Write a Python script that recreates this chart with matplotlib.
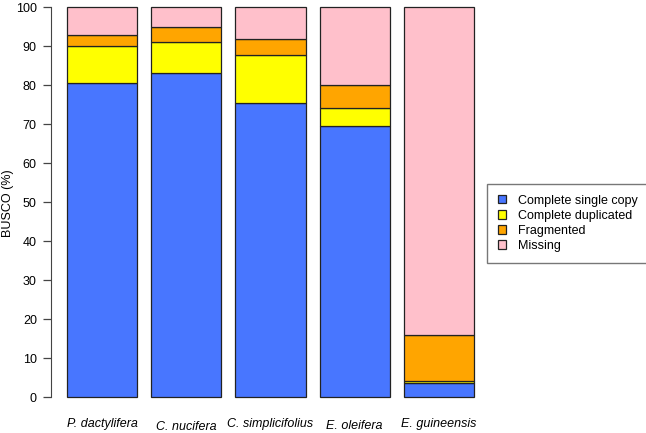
import matplotlib
matplotlib.use("Agg")
import matplotlib.pyplot as plt
import matplotlib.transforms as mtransforms
from matplotlib.patches import Patch
import numpy as np

plt.rcParams['font.family'] = ['Liberation Sans', 'DejaVu Sans']

# data (percent of BUSCOs)
species = ['P. dactylifera', 'C. nucifera', 'C. simplicifolius', 'E. oleifera', 'E. guineensis']
single = [80.7, 83.2, 75.6, 69.7, 3.8]
duplicated = [9.3, 7.8, 12.3, 4.6, 0.5]
fragmented = [2.9, 3.9, 4.0, 5.7, 11.6]
missing = [7.1, 5.1, 8.1, 20.0, 84.1]
categories = ['Complete single copy', 'Complete duplicated', 'Fragmented', 'Missing']
colors = ['#4876FF', '#FFFF00', '#FFA500', '#FFC0CB']

fig = plt.figure(figsize=(6.46, 4.33), dpi=100)
ax = fig.add_axes([0.0785, 0.073, 0.6805, 0.919])

x = 0.7 + 1.2 * np.arange(len(species))
bottom = np.zeros(len(species))
for vals, col in zip([single, duplicated, fragmented, missing], colors):
    ax.bar(x, vals, width=1.0, bottom=bottom, color=col, edgecolor='#222222', linewidth=0.9)
    bottom += np.array(vals)

ax.set_xlim(-0.032, 6.232)
ax.set_ylim(-1, 101)
for s in ['top', 'right', 'bottom']:
    ax.spines[s].set_visible(False)
ax.spines['left'].set_bounds(0, 100)
ax.spines['left'].set_color('#444444')
ax.set_yticks(range(0, 101, 10))
ax.tick_params(axis='y', length=6, width=0.9, color='#444444', labelsize=9, pad=4)
ax.set_xticks([])
fig.text(8 / 646, 1 - 203 / 433, 'BUSCO (%)', rotation=90, ha='center', va='center', fontsize=9)

# species labels, staggered like the R output
drop = [0, 3, 0, 2, 0]
for xi, name, d in zip(x, species, drop):
    tr = mtransforms.offset_copy(ax.get_xaxis_transform(), fig=fig, x=0, y=-(d + 4) * 0.72, units='points')
    ax.text(xi, -0.032, name, transform=tr, ha='center', va='top', fontsize=9, style='italic')

handles = [Patch(facecolor=c, edgecolor='#222222', linewidth=0.9) for c in colors]
leg = fig.legend(handles, categories, loc='upper left', bbox_to_anchor=(487 / 646, 1 - 184 / 433),
                 fontsize=9, frameon=True, fancybox=False, edgecolor='#555555',
                 handlelength=0.65, handleheight=0.65, handletextpad=1.0,
                 borderpad=0.85, labelspacing=0.25, borderaxespad=0)
leg.get_frame().set_linewidth(1.0)

fig.savefig('out.png', dpi=100)
